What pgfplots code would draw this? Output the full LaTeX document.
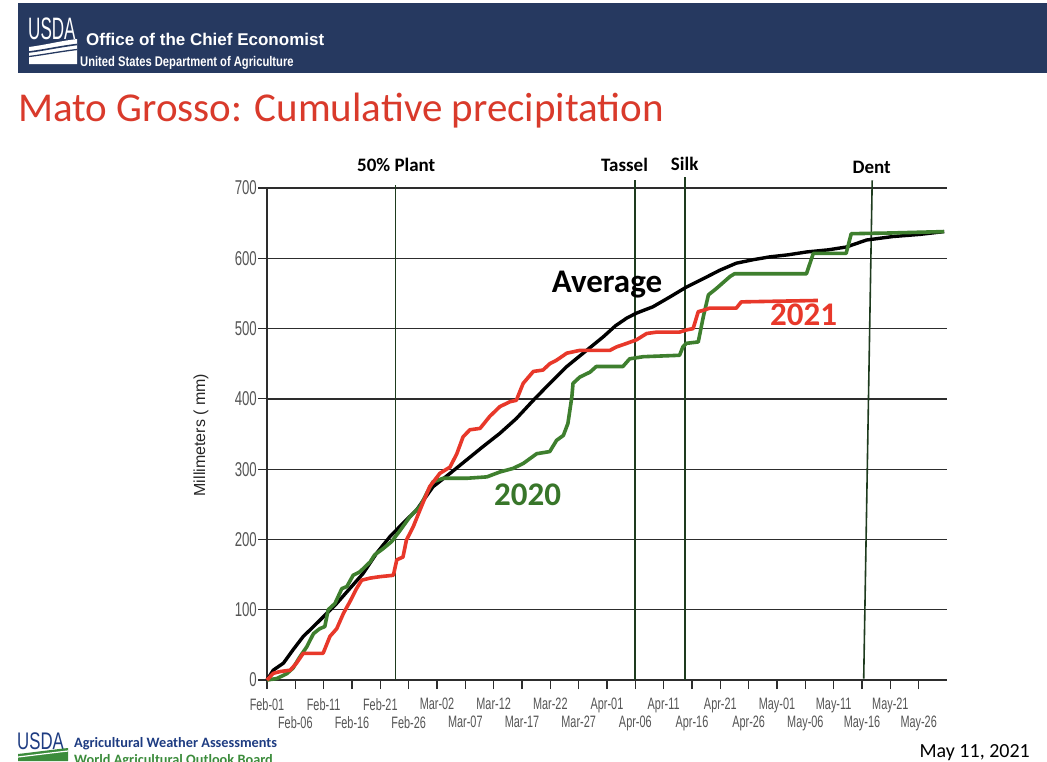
\documentclass[border=0pt]{standalone}
\usepackage{pgfplots}
\pgfplotsset{compat=1.18}
\usepackage{pgfplotstable}
\usepackage{graphicx}
\usepackage{fontspec}
\setmainfont{Carlito}
\newfontfamily\arialf{Liberation Sans}
\newfontfamily\narrowf[FakeStretch=0.66]{Liberation Sans}
\newfontfamily\condf[FakeStretch=0.8]{Liberation Sans}
\definecolor{navy}{RGB}{38,57,96}
\definecolor{titlered}{RGB}{217,58,43}
\definecolor{linered}{RGB}{232,56,42}
\definecolor{linegreen}{RGB}{62,127,46}
\definecolor{txtgreen}{RGB}{56,118,42}
\definecolor{phasegreen}{RGB}{30,59,30}
\definecolor{gridc}{RGB}{45,45,45}
\definecolor{ticktxt}{RGB}{85,85,85}
\definecolor{footnavy}{RGB}{30,60,130}
\definecolor{footgreen}{RGB}{60,140,60}

\pgfplotstableread{
x y
0 0
1.1 14
2.9 24
4.6 43
6.4 62
8.2 76
10.2 92
12.3 109
14.6 130
17.0 152
19.3 180
21.7 204
24.0 223
26.4 242
29.3 275
32.3 294
35.2 313
38.1 332
41.1 351
44.0 372
47.0 398
49.9 422
52.9 446
56.4 469
59.3 488
61.5 504
63.5 515
65.2 522
68.1 531
71.1 545
74.0 559
77.0 571
79.9 583
82.8 593
85.8 598
88.7 602
92.0 605
95.2 609
99.0 612
102.2 616
105.8 626
110.5 631
115.2 634
119.5 638
}\avgdata

\pgfplotstableread{
x y
0 0
1.7 2
3.5 9
4.6 17
5.8 33
7.0 47
8.2 66
9.3 73
10.2 76
10.8 100
12.0 109
13.2 130
14.1 133
15.2 149
16.4 154
18.2 168
19.0 178
20.5 187
22.0 197
23.5 213
25.2 232
27.0 247
28.2 266
29.3 282
31.1 287
35.2 287
38.8 289
41.1 296
43.4 301
45.2 308
46.4 315
47.6 322
49.9 325
51.1 341
52.3 348
53.1 365
53.8 403
54.0 422
55.2 431
57.0 438
58.1 446
62.8 446
64.0 457
66.4 460
72.8 462
73.4 474
74.0 479
76.1 481
77.0 517
77.9 548
79.3 557
81.7 574
82.5 578
95.2 578
96.4 607
102.2 607
103.1 635
110.0 636
119.5 638
}\yeartwenty

\pgfplotstableread{
x y
0 0
1.1 9.5
2.3 12
4.1 14
5.2 24
6.4 38
9.9 38
11.1 62
12.3 73
13.5 95
14.6 111
15.8 130
16.7 142
18.2 145
19.9 147
22.3 149
22.9 171
24.0 175
24.6 199
25.8 218
27.0 242
28.7 275
30.5 294
32.3 303
33.5 322
34.6 346
35.8 356
37.6 358
39.3 375
41.1 389
42.9 396
44.0 398
45.2 422
47.0 439
48.7 441
49.9 450
51.1 455
52.9 465
55.2 469
60.5 469
61.7 474
63.5 479
65.2 484
67.0 493
68.8 495
72.8 495
74.0 498
75.2 500
76.1 524
77.0 526
78.1 529
82.8 529
83.7 538
97.2 540
}\yeartwentyone

\begin{document}
\begin{tikzpicture}[x=1pt,y=1pt]
\useasboundingbox (0,0) rectangle (1047,-761);
\fill[white] (0,0) rectangle (1047,-761);
\begin{scope}
\clip (0,0) rectangle (1047,-761);
% header band
\fill[navy] (18,-3) rectangle (1047,-73);
\node[anchor=base west, inner sep=0pt, text=white, font=\arialf\fontsize{31}{31}\selectfont] at (28,-39) {\scalebox{0.55}[1]{USDA}};
\fill[white] (29,-47) .. controls (45,-45) and (60,-41) .. (77,-39) -- (77,-64) -- (29,-64) -- cycle;
\draw[navy, line width=1.6] (29,-52) .. controls (45,-50) and (60,-46.5) .. (77,-44.5);
\draw[navy, line width=1.3] (29,-56.5) .. controls (45,-54.5) and (60,-51.5) .. (77,-49.5);
\node[anchor=base west, inner sep=0pt, text=white, font=\arialf\bfseries\fontsize{17}{17}\selectfont] at (86,-45) {Office of the Chief Economist};
\node[anchor=base west, inner sep=0pt, text=white, font=\condf\bfseries\fontsize{14}{14}\selectfont] at (80,-66) {United States Department of Agriculture};
% title
\node[anchor=base west, inner sep=0pt, text=titlered, font=\fontsize{41}{41}\selectfont] at (18,-121) {Mato Grosso: Cumulative precipitation};
% y label
\node[rotate=90, inner sep=0pt, text=black!85, font=\arialf\fontsize{16}{16}\selectfont] at (201,-435) {Millimeters ( mm)};
% footer
\node[anchor=base west, inner sep=0pt, text=footnavy, font=\arialf\fontsize{24}{24}\selectfont] at (17,-749) {\scalebox{0.7}[1]{USDA}};
\fill[footgreen] (18,-761) -- (18,-754) .. controls (35,-752) and (50,-750) .. (68,-748) -- (68,-761) -- cycle;
\draw[white, line width=1.2] (18,-757) .. controls (35,-755) and (50,-753) .. (68,-751);
\node[anchor=base west, inner sep=0pt, text=footnavy, font=\bfseries\fontsize{14.3}{14.3}\selectfont] at (74,-747) {Agricultural Weather Assessments};
\node[anchor=base west, inner sep=0pt, text=footgreen, font=\bfseries\fontsize{14.3}{14.3}\selectfont] at (74,-764) {World Agricultural Outlook Board};
\node[anchor=base east, inner sep=0pt, text=black, font=\fontsize{20}{20}\selectfont] at (1030,-757) {May 11, 2021};
\end{scope}

\begin{axis}[
  at={(267pt,-680pt)}, anchor=south west,
  scale only axis, width=680pt, height=492pt,
  xmin=0, xmax=120, ymin=0, ymax=700,
  clip=false,
  axis x line*=bottom, axis y line*=left,
  axis line style={gridc, line width=1.3pt},
  ymajorgrids, grid style={gridc, line width=1.3pt},
  ytick={0,100,...,700},
  tick align=outside, major tick length=9pt,
  tick style={gridc, line width=1.2pt},
  /pgf/number format/assume math mode=true,
  yticklabel style={font=\narrowf\fontsize{20}{20}\selectfont, text=ticktxt, inner sep=1pt},
  xticklabel style={font=\narrowf\fontsize{16.5}{16.5}\selectfont, text=ticktxt, inner sep=1pt, yshift=-8pt},
  xtick={0,10,...,110},
  xticklabels={Feb-01,Feb-11,Feb-21,Mar-02,Mar-12,Mar-22,Apr-01,Apr-11,Apr-21,May-01,May-11,May-21},
  extra x ticks={5,15,...,115},
  extra x tick labels={Feb-06,Feb-16,Feb-26,Mar-07,Mar-17,Mar-27,Apr-06,Apr-16,Apr-26,May-06,May-16,May-26},
  extra x tick style={grid=none, xticklabel style={yshift=-18pt}},
]
% phase lines
\addplot[phasegreen, line width=1.6pt] coordinates {(22.7,0) (22.7,704)};
\addplot[phasegreen, line width=1.6pt] coordinates {(64.9,0) (64.9,711)};
\addplot[phasegreen, line width=1.6pt] coordinates {(73.8,0) (73.8,716)};
\addplot[phasegreen, line width=1.6pt] coordinates {(105.3,2) (106.8,711)};
% data
\addplot[black, line width=3.4pt, line join=round] table[x=x,y=y] {\avgdata};
\addplot[linegreen, line width=3.6pt, line join=round] table[x=x,y=y] {\yeartwenty};
\addplot[linered, line width=3.6pt, line join=round] table[x=x,y=y] {\yeartwentyone};
% phase labels
\node[font=\bfseries\fontsize{19}{19}\selectfont] at (axis cs:22.8,733) {50\% Plant};
\node[font=\bfseries\fontsize{19}{19}\selectfont] at (axis cs:63.1,733) {Tassel};
\node[font=\bfseries\fontsize{19}{19}\selectfont] at (axis cs:73.7,735) {Silk};
\node[font=\bfseries\fontsize{19}{19}\selectfont] at (axis cs:106.7,729) {Dent};
% series labels
\node[font=\bfseries\fontsize{33}{33}\selectfont] at (axis cs:60,562) {Average};
\node[text=linered, font=\bfseries\fontsize{33}{33}\selectfont] at (axis cs:94.7,519) {2021};
\node[text=txtgreen, font=\bfseries\fontsize{33}{33}\selectfont] at (axis cs:46,263) {2020};
\end{axis}
\end{tikzpicture}
\end{document}
